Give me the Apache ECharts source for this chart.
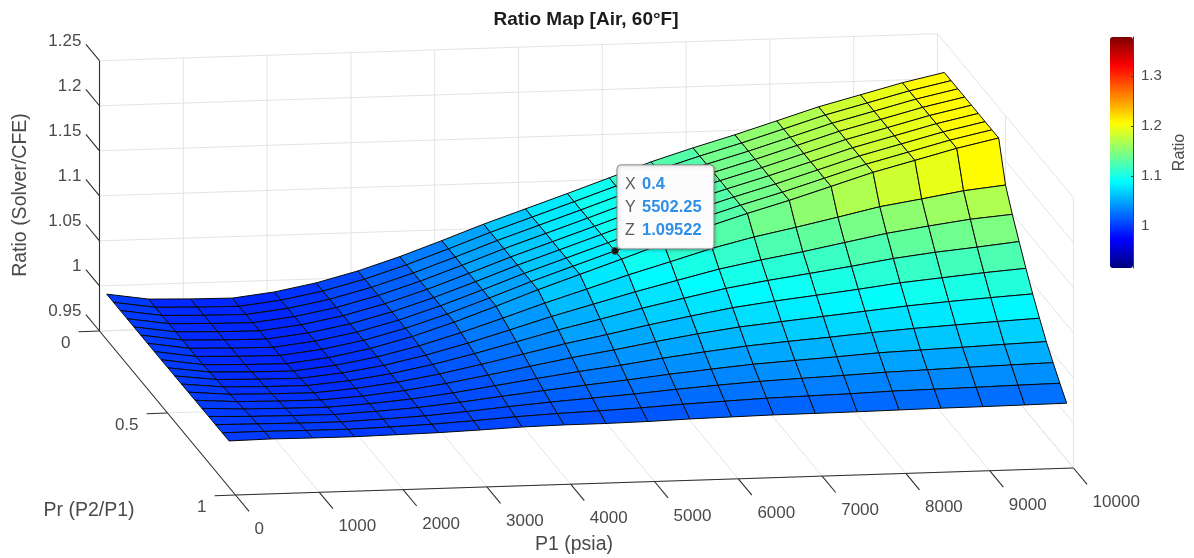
<!DOCTYPE html>
<html>
<head>
<meta charset="utf-8">
<style>html,body{margin:0;padding:0;background:#fff}#c{width:1194px;height:558px}</style>
<script src="https://cdn.jsdelivr.net/npm/echarts@6/dist/echarts.min.js"></script>
</head>
<body>
<div id="c"></div>
<script>
// ---- data ----
const p1Values = [5,504.75,1004.5,1504.25,2004,2503.75,3003.5,3503.25,4003,4502.75,5002.5,5502.25,6002,6501.75,7001.5,7501.25,8001,8500.75,9000.5,9500.25,10000];
const prValues = [0.05,0.1,0.15,0.2,0.25,0.3,0.35,0.4,0.45,0.5,0.55,0.6,0.65,0.7,0.75,0.8,0.85,0.9,0.95];
// Ratio along each Pr row; rows up to Pr 0.45 sit on the same flat (choked) plateau
const ratioPr05to45 = [1.0000,0.9930,0.9917,0.9911,0.9964,1.0050,1.0168,1.0312,1.0474,1.0642,1.0797,1.09522,1.1111,1.1274,1.1414,1.1544,1.1684,1.1825,1.1943,1.2062,1.2161];
const ratioPr50 = [1.0001,0.9939,0.9926,0.9921,0.9969,1.0048,1.0155,1.0287,1.0433,1.0585,1.0725,1.0868,1.0999,1.1133,1.1244,1.1336,1.1434,1.1535,1.1606,1.1682,1.1730];
const ratioPr55 = [1.0002,0.9947,0.9936,0.9931,0.9975,1.0045,1.0143,1.0261,1.0393,1.0527,1.0649,1.0771,1.0883,1.0993,1.1080,1.1156,1.1243,1.1330,1.1396,1.1457,1.1496];
const ratioPr60 = [1.0003,0.9956,0.9945,0.9941,0.9980,1.0043,1.0130,1.0236,1.0352,1.0470,1.0573,1.0680,1.0776,1.0870,1.0943,1.1006,1.1071,1.1142,1.1196,1.1238,1.1285];
const ratioPr65 = [1.0004,0.9965,0.9956,0.9952,0.9986,1.0040,1.0116,1.0208,1.0307,1.0407,1.0494,1.0586,1.0669,1.0747,1.0805,1.0855,1.0906,1.0963,1.1004,1.1045,1.1079];
const ratioPr70 = [1.0005,0.9975,0.9966,0.9963,0.9992,1.0038,1.0102,1.0180,1.0262,1.0344,1.0414,1.0491,1.0563,1.0624,1.0668,1.0711,1.0754,1.0797,1.0831,1.0860,1.0886];
const ratioPr75 = [1.0006,0.9984,0.9977,0.9974,0.9998,1.0035,1.0088,1.0153,1.0218,1.0280,1.0335,1.0398,1.0453,1.0503,1.0540,1.0572,1.0608,1.0639,1.0663,1.0686,1.0707];
const ratioPr80 = [1.0007,0.9993,0.9987,0.9984,1.0004,1.0032,1.0075,1.0126,1.0175,1.0220,1.0263,1.0311,1.0353,1.0392,1.0419,1.0445,1.0474,1.0490,1.0506,1.0523,1.0539];
const ratioPr85 = [1.0007,1.0001,0.9995,0.9993,1.0009,1.0030,1.0063,1.0103,1.0138,1.0168,1.0198,1.0235,1.0266,1.0293,1.0312,1.0329,1.0349,1.0362,1.0375,1.0386,1.0396];
const ratioPr90 = [1.0008,1.0009,1.0004,1.0002,1.0013,1.0028,1.0052,1.0081,1.0102,1.0117,1.0135,1.0160,1.0179,1.0197,1.0207,1.0217,1.0231,1.0237,1.0244,1.0252,1.0258];
const ratioPr95 = [1.0009,1.0016,1.0012,1.0011,1.0018,1.0026,1.0041,1.0059,1.0067,1.0068,1.0075,1.0088,1.0096,1.0103,1.0105,1.0108,1.0113,1.0118,1.0120,1.0124,1.0128];
const ratioRows = [ratioPr05to45,ratioPr05to45,ratioPr05to45,ratioPr05to45,ratioPr05to45,ratioPr05to45,ratioPr05to45,ratioPr05to45,ratioPr05to45,ratioPr50,ratioPr55,ratioPr60,ratioPr65,ratioPr70,ratioPr75,ratioPr80,ratioPr85,ratioPr90,ratioPr95];

const p1Ticks = [0,1000,2000,3000,4000,5000,6000,7000,8000,9000,10000];
const prTicks = [0,0.5,1];
const ratioTicks = [0.95,1,1.05,1.1,1.15,1.2,1.25];
const colorTicks = [1,1.1,1.2,1.3];
const colorRange = [0.916,1.378];
const jet = ['#00007f','#0000ff','#007fff','#00ffff','#7fff7f','#ffff00','#ff7f00','#ff0000','#7f0000'];
const dataTip = {pr:0.4, p1:5502.25, ratio:1.09522};
const axisTitles = [['Ratio (Solver/CFE)',21,195,90],['Pr (P2/P1)',89,511,0],['P1 (psia)',574,545,0]];

const TEXT = '#4a4a4a', FONT = 'Liberation Sans';

// fixed orthographic view of the 3-D box onto the plane of the page
function project(p1, pr, r){
  return [99.5 + 838*p1/10000 + 136*pr, 331 - 27*p1/10000 + 164*pr - 901*(r-0.95)];
}
const P1MAX = 10000, R0 = 0.95, R1 = 1.25;

// segments: [p1a,pra,ra,p1b,prb,rb]
const gridSegs = [];
p1Ticks.forEach(p=>{ gridSegs.push([p,0,R0,p,1,R0]); gridSegs.push([p,0,R0,p,0,R1]); });
prTicks.forEach(q=>{ gridSegs.push([0,q,R0,P1MAX,q,R0]); gridSegs.push([P1MAX,q,R0,P1MAX,q,R1]); });
ratioTicks.forEach(r=>{ gridSegs.push([0,0,r,P1MAX,0,r]); gridSegs.push([P1MAX,0,r,P1MAX,1,r]); });

const axisSegs = [[0,0,R0,0,0,R1],[0,0,R0,0,1,R0],[0,1,R0,P1MAX,1,R0]];
ratioTicks.forEach(r=>axisSegs.push([0,0,r,0,-0.1,r]));
prTicks.forEach(q=>axisSegs.push([0,q,R0,-250,q,R0]));
p1Ticks.forEach(p=>axisSegs.push([p,1,R0,p,1.1,R0]));

// labels: [text, x-anchor p1, pr, ratio, dx, dy, align]
const labels = [];
ratioTicks.forEach(r=>labels.push([String(r),0,-0.1,r,-4.5,-3,'right']));
prTicks.forEach(q=>labels.push([String(q),-250,q,R0,-8,12,'right']));
p1Ticks.forEach(p=>labels.push([String(p),p,1.1,R0,5.5,18,'left']));

function lineRender(color,width){
  return function(params,api){
    const a = api.coord(project(api.value(0),api.value(1),api.value(2)));
    const b = api.coord(project(api.value(3),api.value(4),api.value(5)));
    return {type:'line',shape:{x1:a[0],y1:a[1],x2:b[0],y2:b[1]},style:{stroke:color,lineWidth:width},silent:true};
  };
}

// painter's order: back rows (low Pr) first; each face coloured by its first corner
const faces = [];
for(let j=0;j<prValues.length-1;j++){
  for(let i=0;i<p1Values.length-1;i++){
    faces.push([i,j,ratioRows[j][i]]);
  }
}
function faceRender(params,api){
  const i=api.value(0), j=api.value(1);
  const corner=(m,n)=>api.coord(project(p1Values[m],prValues[n],ratioRows[n][m]));
  return {type:'polygon',
    shape:{points:[corner(i,j),corner(i+1,j),corner(i+1,j+1),corner(i,j+1)]},
    style:{fill:api.visual('color'),stroke:'#0a0a0a',lineWidth:1,lineJoin:'round'}};
}

const chart = echarts.init(document.getElementById('c'));
chart.setOption({
  animation:false,
  backgroundColor:'#fff',
  title:{text:'Ratio Map [Air, 60°F]',left:581,top:5,textAlign:'center',
    textStyle:{fontFamily:FONT,fontSize:19,fontWeight:'bold',color:'#1c1c1c'}},
  grid:[
    {left:0,top:0,width:1194,height:558,show:false},
    {left:1110,top:37,width:23,height:231,show:false}
  ],
  xAxis:[
    {gridIndex:0,type:'value',min:0,max:1194,show:false},
    {gridIndex:1,type:'value',min:0,max:1,show:false}
  ],
  yAxis:[
    {gridIndex:0,type:'value',min:0,max:558,inverse:true,show:false},
    {gridIndex:1,type:'value',min:colorRange[0],max:colorRange[1],position:'right',z:10,
      name:'Ratio',nameLocation:'middle',nameRotate:90,nameGap:39,
      nameTextStyle:{fontFamily:FONT,fontSize:16,color:TEXT},
      axisLine:{show:true,onZero:false,lineStyle:{color:'#404040',width:1}},
      axisTick:{show:true,inside:true,length:2,customValues:colorTicks,lineStyle:{color:'#404040'}},
      axisLabel:{show:true,margin:8,fontFamily:FONT,fontSize:15,color:TEXT,customValues:colorTicks},
      splitLine:{show:false}}
  ],
  visualMap:{type:'continuous',seriesIndex:1,dimension:2,min:colorRange[0],max:colorRange[1],
    left:1110,top:37,itemWidth:23,itemHeight:231,padding:0,calculable:false,realtime:false,
    text:null,showLabel:false,hoverLink:false,inRange:{color:jet},
    textStyle:{fontSize:0}},
  series:[
    {type:'custom',coordinateSystem:'cartesian2d',xAxisIndex:0,yAxisIndex:0,silent:true,z:1,
      renderItem:lineRender('#e4e4e4',1),data:gridSegs,clip:false},
    {type:'custom',coordinateSystem:'cartesian2d',xAxisIndex:0,yAxisIndex:0,silent:true,z:2,
      renderItem:faceRender,data:faces,encode:{x:0,y:1},clip:false},
    {type:'custom',coordinateSystem:'cartesian2d',xAxisIndex:0,yAxisIndex:0,silent:true,z:3,
      renderItem:lineRender('#2e2e2e',1.1),data:axisSegs,clip:false},
    {type:'custom',coordinateSystem:'cartesian2d',xAxisIndex:0,yAxisIndex:0,silent:true,z:4,clip:false,
      data:labels.map(l=>[l[1],l[2],l[3],l[4],l[5]]),
      renderItem:function(params,api){
        const l=labels[params.dataIndex];
        const a=api.coord(project(l[1],l[2],l[3]));
        return {type:'text',x:a[0]+l[4],y:a[1]+l[5],
          style:{text:l[0],fill:TEXT,font:'17px "'+FONT+'"',textAlign:l[6],textVerticalAlign:'middle'}};
      }},
    {type:'custom',coordinateSystem:'cartesian2d',xAxisIndex:0,yAxisIndex:0,silent:true,z:5,clip:false,
      data:[[dataTip.p1,dataTip.pr,dataTip.ratio]],
      renderItem:function(params,api){
        const a=api.coord(project(api.value(0),api.value(1),api.value(2)));
        const bx=a[0]+2, by=a[1]-86;
        const row=(name,val,y)=>[
          {type:'text',x:bx+8,y:by+y,style:{text:name,fill:'#5a5a5a',font:'16px "'+FONT+'"',textVerticalAlign:'middle'}},
          {type:'text',x:bx+25,y:by+y,style:{text:val,fill:'#2f8fe6',font:'bold 16.5px "'+FONT+'"',textVerticalAlign:'middle'}}
        ];
        return {type:'group',children:[
          {type:'rect',shape:{x:bx,y:by,width:97,height:84,r:4},
            style:{fill:'#fcfcfc',stroke:'#8a8a8a',lineWidth:1,shadowBlur:3,shadowColor:'rgba(0,0,0,0.25)',shadowOffsetX:1,shadowOffsetY:1}},
          {type:'circle',shape:{cx:a[0],cy:a[1],r:3.5},style:{fill:'#111',stroke:'#555',lineWidth:1}}
        ].concat(row('X',String(dataTip.pr),20),row('Y',String(dataTip.p1),43),row('Z',String(dataTip.ratio),66))};
      }},
    {type:'custom',coordinateSystem:'cartesian2d',xAxisIndex:0,yAxisIndex:0,silent:true,z:6,clip:false,
      data:axisTitles.map(d=>[d[1],d[2]]),
      renderItem:function(params,api){
        const d=axisTitles[params.dataIndex];
        const a=api.coord([api.value(0),api.value(1)]);
        return {type:'text',x:a[0],y:a[1],rotation:d[3]*Math.PI/180,
          style:{text:d[0],fill:TEXT,font:'19.5px "'+FONT+'"',textAlign:'center',textVerticalAlign:'middle'}};
      }}
  ]
});
</script>
</body>
</html>
